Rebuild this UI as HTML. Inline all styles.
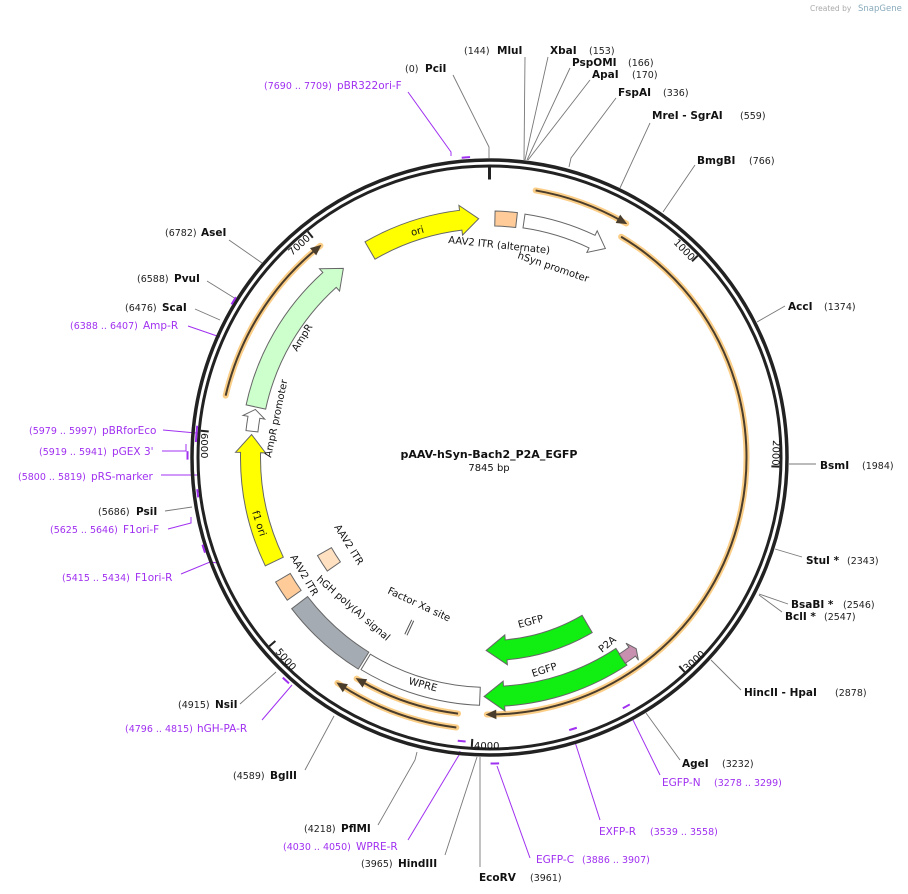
<!DOCTYPE html>
<html><head><meta charset="utf-8"><style>
html,body{margin:0;padding:0;background:#fff}
svg{display:block}
text{font-family:"DejaVu Sans","Liberation Sans",sans-serif}
.en{font-size:10.5px;font-weight:bold;fill:#111}
.num{font-size:9.5px;fill:#222}
.pr{font-size:10.5px;fill:#a030f0}
.prn{font-size:9.5px;fill:#a030f0}
.fl{font-size:10px;fill:#111}
.tk{font-size:10px;fill:#111}
</style></head><body>
<svg id="s" width="908" height="894" viewBox="0 0 908 894" xmlns="http://www.w3.org/2000/svg">
<text x="810" y="11" style="font-size:7.5px;fill:#aaa">Created by</text>
<text x="858" y="11" style="font-size:8.5px;fill:#8ab">SnapGene</text>
<g id="lines" stroke="#777" stroke-width="0.9" fill="none">
<polyline points="453,75 489,147 489,158"/>
<polyline points="525,57 524,160"/>
<polyline points="548,57 525,160"/>
<polyline points="570,68 527,160"/>
<polyline points="590,80 528,160"/>
<polyline points="616,98 571,158 569,167"/>
<polyline points="650,123 620,188"/>
<polyline points="695,165 663,212"/>
<polyline points="785,306 757,322"/>
<polyline points="816,464 789,464"/>
<polyline points="802,557 775,549"/>
<polyline points="788,604 759,594"/>
<polyline points="782,612 759,595"/>
<polyline points="741,690 711,660"/>
<polyline points="680,760 646,713"/>
<polyline points="480,867 480,757"/>
<polyline points="445,855 477,757"/>
<polyline points="378,825 415,760 417,752"/>
<polyline points="305,770 334,716"/>
<polyline points="240,704 276,672"/>
<polyline points="165,511 192,507"/>
<polyline points="195,309 220,320"/>
<polyline points="207,281 236,299"/>
<polyline points="229,240 262,263"/>
</g>
<g stroke="#a030f0" stroke-width="1" fill="none">
<polyline points="408,92 451,152 451,156"/>
<polyline points="188,326 220,337"/>
<polyline points="163,430 196,433"/>
<polyline points="162,451 186,451 186,444"/>
<polyline points="161,475 199,475"/>
<polyline points="168,529 191,523 191,517"/>
<polyline points="181,574 210,562 218,563"/>
<polyline points="262,720 292,685"/>
<polyline points="408,840 459,755 460,751"/>
<polyline points="530,858 497,766"/>
<polyline points="600,820 575,742"/>
<polyline points="660,775 632,718"/>
</g>
<g id="dyn"></g>
<text x="405" y="72" class="num">(0)</text><text x="425" y="72" class="en">PciI</text>
<text x="464" y="54" class="num">(144)</text><text x="497" y="54" class="en">MluI</text>
<text x="550" y="54" class="en">XbaI</text><text x="589" y="54" class="num">(153)</text>
<text x="572" y="66" class="en">PspOMI</text><text x="628" y="66" class="num">(166)</text>
<text x="592" y="78" class="en">ApaI</text><text x="632" y="78" class="num">(170)</text>
<text x="618" y="96" class="en">FspAI</text><text x="663" y="96" class="num">(336)</text>
<text x="652" y="119" class="en">MreI  - SgrAI</text><text x="740" y="119" class="num">(559)</text>
<text x="697" y="164" class="en">BmgBI</text><text x="749" y="164" class="num">(766)</text>
<text x="788" y="310" class="en">AccI</text><text x="824" y="310" class="num">(1374)</text>
<text x="820" y="469" class="en">BsmI</text><text x="862" y="469" class="num">(1984)</text>
<text x="806" y="564" class="en">StuI *</text><text x="847" y="564" class="num">(2343)</text>
<text x="791" y="608" class="en">BsaBI *</text><text x="843" y="608" class="num">(2546)</text>
<text x="785" y="620" class="en">BclI *</text><text x="824" y="620" class="num">(2547)</text>
<text x="744" y="696" class="en">HincII  - HpaI</text><text x="835" y="696" class="num">(2878)</text>
<text x="682" y="767" class="en">AgeI</text><text x="722" y="767" class="num">(3232)</text>
<text x="479" y="881" class="en">EcoRV</text><text x="530" y="881" class="num">(3961)</text>
<text x="361" y="867" class="num">(3965)</text><text x="398" y="867" class="en">HindIII</text>
<text x="304" y="832" class="num">(4218)</text><text x="341" y="832" class="en">PflMI</text>
<text x="233" y="779" class="num">(4589)</text><text x="270" y="779" class="en">BglII</text>
<text x="178" y="708" class="num">(4915)</text><text x="215" y="708" class="en">NsiI</text>
<text x="98" y="515" class="num">(5686)</text><text x="136" y="515" class="en">PsiI</text>
<text x="125" y="311" class="num">(6476)</text><text x="162" y="311" class="en">ScaI</text>
<text x="137" y="282" class="num">(6588)</text><text x="174" y="282" class="en">PvuI</text>
<text x="165" y="236" class="num">(6782)</text><text x="201" y="236" class="en">AseI</text>

<text x="264" y="89" class="prn">(7690 .. 7709)</text><text x="337" y="89" class="pr">pBR322ori-F</text>
<text x="70" y="329" class="prn">(6388 .. 6407)</text><text x="143" y="329" class="pr">Amp-R</text>
<text x="29" y="434" class="prn">(5979 .. 5997)</text><text x="102" y="434" class="pr">pBRforEco</text>
<text x="39" y="455" class="prn">(5919 .. 5941)</text><text x="112" y="455" class="pr">pGEX 3'</text>
<text x="18" y="480" class="prn">(5800 .. 5819)</text><text x="91" y="480" class="pr">pRS-marker</text>
<text x="50" y="533" class="prn">(5625 .. 5646)</text><text x="123" y="533" class="pr">F1ori-F</text>
<text x="62" y="581" class="prn">(5415 .. 5434)</text><text x="135" y="581" class="pr">F1ori-R</text>
<text x="125" y="732" class="prn">(4796 .. 4815)</text><text x="197" y="732" class="pr">hGH-PA-R</text>
<text x="283" y="850" class="prn">(4030 .. 4050)</text><text x="356" y="850" class="pr">WPRE-R</text>
<text x="536" y="863" class="pr">EGFP-C</text><text x="582" y="863" class="prn">(3886 .. 3907)</text>
<text x="599" y="835" class="pr">EXFP-R</text><text x="650" y="835" class="prn">(3539 .. 3558)</text>
<text x="662" y="786" class="pr">EGFP-N</text><text x="714" y="786" class="prn">(3278 .. 3299)</text>

<text x="489" y="458" text-anchor="middle" style="font-size:11px;font-weight:bold;fill:#111">pAAV-hSyn-Bach2_P2A_EGFP</text>
<text x="489" y="471" text-anchor="middle" style="font-size:10px;fill:#111">7845 bp</text>

<text class="tk" transform="translate(673,243) rotate(46)">1000</text>
<text class="tk" transform="translate(773,440) rotate(92)">2000</text>
<text class="tk" transform="translate(687,672) rotate(-42)">3000</text>
<text class="tk" x="474" y="749">4000</text>
<text class="tk" transform="translate(275,652) rotate(49)">5000</text>
<text class="tk" transform="translate(201,433) rotate(90)">6000</text>
<text class="tk" transform="translate(292,256) rotate(-42)">7000</text>

<text class="fl" transform="translate(412,236) rotate(-16)">ori</text>
<text class="fl" transform="translate(448,243) rotate(6)">AAV2 ITR (alternate)</text>
<text class="fl" transform="translate(517,258) rotate(19)">hSyn promoter</text>
<text class="fl" transform="translate(297,352) rotate(-58)">AmpR</text>
<text class="fl" transform="translate(271,458) rotate(-78)">AmpR promoter</text>
<text class="fl" transform="translate(252,512) rotate(72)">f1 ori</text>
<text class="fl" transform="translate(334,527) rotate(58)">AAV2 ITR</text>
<text class="fl" transform="translate(290,557) rotate(60)">AAV2 ITR</text>
<text class="fl" transform="translate(316,580) rotate(41)">hGH poly(A) signal</text>
<text class="fl" transform="translate(387,593) rotate(25)">Factor Xa site</text>
<text class="fl" transform="translate(408,684) rotate(15)">WPRE</text>
<text class="fl" transform="translate(519,628) rotate(-15)">EGFP</text>
<text class="fl" transform="translate(533,677) rotate(-18)">EGFP</text>
<text class="fl" transform="translate(602,653) rotate(-40)">P2A</text>
</svg>
<script>
(function(){
var cx=489.5,cy=457.5,NS="http://www.w3.org/2000/svg",g=document.getElementById("dyn");
function pt(r,a){a=a*Math.PI/180;return [(cx+r*Math.sin(a)).toFixed(2),(cy-r*Math.cos(a)).toFixed(2)];}
function P(d,f,s,w,extra){var e=document.createElementNS(NS,"path");e.setAttribute("d",d);e.setAttribute("fill",f||"none");if(s){e.setAttribute("stroke",s);e.setAttribute("stroke-width",w||1);}if(extra)for(var k in extra)e.setAttribute(k,extra[k]);g.appendChild(e);return e;}
function arc(r,a,b){var p=pt(r,a),q=pt(r,b),l=Math.abs(b-a)>180?1:0,sw=b>a?1:0;return "M"+p+" A"+r+" "+r+" 0 "+l+" "+sw+" "+q;}
function arcTo(r,a,b){var q=pt(r,b),l=Math.abs(b-a)>180?1:0,sw=b>a?1:0;return " A"+r+" "+r+" 0 "+l+" "+sw+" "+q;}
var c1=document.createElementNS(NS,"circle");c1.setAttribute("cx",cx);c1.setAttribute("cy",cy);c1.setAttribute("r",297.5);c1.setAttribute("fill","none");c1.setAttribute("stroke","#222");c1.setAttribute("stroke-width",3.5);g.appendChild(c1);
var c2=c1.cloneNode();c2.setAttribute("r",291.5);c2.setAttribute("stroke-width",3);g.appendChild(c2);
[[0,12,3],[45.9,8,2],[91.8,8,2],[137.7,8,2],[183.5,8,2],[229.4,8,2],[275.3,8,2],[321.2,8,2]].forEach(function(t){
 P("M"+pt(290,t[0])+" L"+pt(290-t[1],t[0]),null,"#222",t[2]);});
[[355.5,301],[301.5,300],[275.4,294],[273.8,294],[270.4,302],[263,294],[252.3,300],[222.4,302],[185.6,285],[179,306],[162.9,284],[151.2,284]].forEach(function(m){
 P(arc(m[1],m[0]-0.8,m[0]+0.8),null,"#a030f0",2);});
function thin(r,a,b){
 P(arc(r,a,b),null,"#fbc97a",6,{"stroke-linecap":"round","opacity":"0.9"});
 P(arc(r,a,b-0.8),null,"#4a3d2c",2);
 var h=9/r*180/Math.PI;
 P("M"+pt(r+4,b-h)+" L"+pt(r,b)+" L"+pt(r-4,b-h)+" Z","#4a3d2c","#4a3d2c",1);
}
thin(271,9.8,30.3);thin(257,30.8,180.6);thin(271,283.2,321.4);thin(258,187,211);thin(272,187,214);
function farrow(r,a,b,w,fill,dir,hw){
 var ro=r+w/2,ri=r-w/2,h=(hw||15)/r*180/Math.PI;
 var tail=dir>0?a:b,tip=dir>0?b:a,base=tip-dir*h;
 var d="M"+pt(ro,tail)+arcTo(ro,tail,base)+" L"+pt(ro+5,base)+" L"+pt(r,tip)+" L"+pt(ri-5,base)+" L"+pt(ri,base)+arcTo(ri,base,tail)+" Z";
 P(d,fill,"#666",1);
}
function box(r,a,b,w,fill){
 var ro=r+w/2,ri=r-w/2;
 P("M"+pt(ro,a)+arcTo(ro,a,b)+" L"+pt(ri,b)+arcTo(ri,b,a)+" Z",fill,"#666",1);
}
farrow(239,330,357.4,20,"#ffff00",1,18);
box(239,1.3,6.5,15,"#ffcc99");
farrow(239,8.3,29,14,"#ffffff",1,15);
farrow(239,282.2,322.3,20,"#ccffcc",1,18);
farrow(239,276.3,281.6,12,"#ffffff",1,8);
farrow(239,244.2,275.5,20,"#ffff00",1,18);
box(239,234.8,239.8,17,"#ffcc99");
box(239,211.8,232.6,20,"#a5abb2");
box(239,182.3,211.2,18,"#ffffff");
farrow(239,146.5,181.3,20,"#11ee11",1,20);
farrow(241,142.5,146.6,11,"#c690ae",-1,5);
farrow(193,149.6,181,20,"#11ee11",1,20);
box(190,235,240.3,16,"#ffe0c0");
P("M"+pt(180,205.6)+" L"+pt(196,205.6),null,"#555",1);
P("M"+pt(180,204.9)+" L"+pt(196,204.9),null,"#555",1);
})();
</script>
</body></html>
